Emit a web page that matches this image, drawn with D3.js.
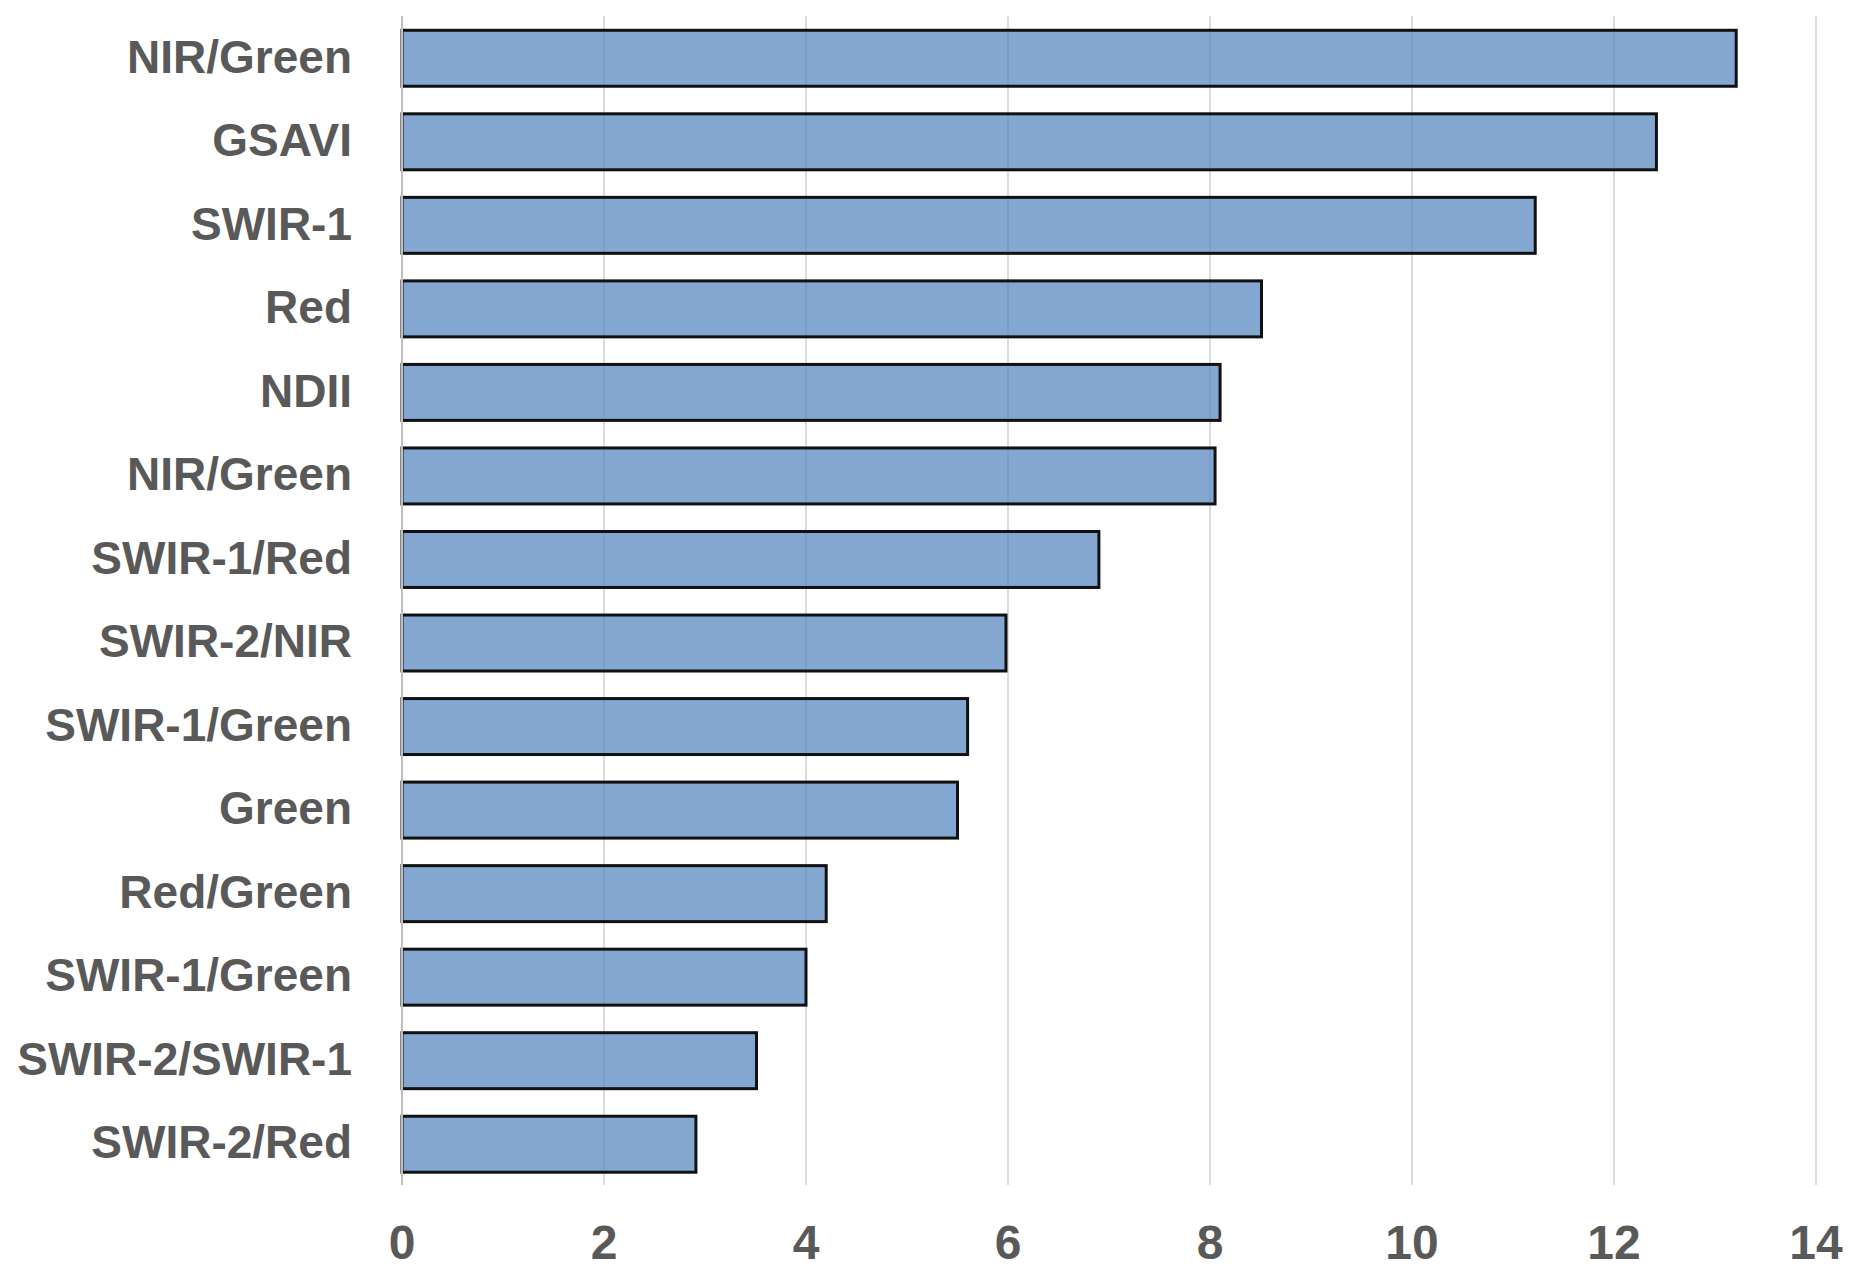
<!DOCTYPE html>
<html>
<head>
<meta charset="utf-8">
<script src="https://cdn.jsdelivr.net/npm/d3@7"></script>
<style>
  html, body { margin: 0; padding: 0; background: #fff; }
  svg { display: block; }
  text { font-family: "Liberation Sans", Arial, sans-serif; font-weight: bold; fill: #595959; }
</style>
</head>
<body>
<svg id="chart" width="1865" height="1278"></svg>
<script>
  // Feature importance (top to bottom, as drawn)
  var categories = ["NIR/Green", "GSAVI", "SWIR-1", "Red", "NDII", "NIR/Green", "SWIR-1/Red",
    "SWIR-2/NIR", "SWIR-1/Green", "Green", "Red/Green", "SWIR-1/Green", "SWIR-2/SWIR-1", "SWIR-2/Red"];
  var values = [13.21, 12.42, 11.22, 8.51, 8.1, 8.05, 6.9, 5.98, 5.6, 5.5, 4.2, 4.0, 3.51, 2.91];
  var xTicks = [0, 2, 4, 6, 8, 10, 12, 14];

  var svg = d3.select("#chart");
  var x = d3.scaleLinear().domain([0, 14]).range([402, 1816]);
  var y = d3.scaleBand().domain(d3.range(categories.length))
    .range([16.5, 1186]).paddingInner(0.33).paddingOuter(0.165);

  // gridlines (under translucent bars)
  svg.append("g").selectAll("line").data(xTicks.slice(1)).enter().append("line")
    .attr("x1", function (d) { return x(d); }).attr("x2", function (d) { return x(d); })
    .attr("y1", 16).attr("y2", 1185)
    .attr("stroke", "#dcdcdc").attr("stroke-width", 2);

  svg.append("g").selectAll("rect").data(values).enter().append("rect")
    .attr("x", x(0))
    .attr("y", function (d, i) { return y(i); })
    .attr("width", function (d) { return x(d) - x(0); })
    .attr("height", y.bandwidth())
    .attr("fill", "#4f81bd").attr("fill-opacity", 0.7)
    .attr("stroke", "#111").attr("stroke-width", 3);

  // zero axis
  svg.append("line").attr("x1", x(0)).attr("x2", x(0)).attr("y1", 16).attr("y2", 1185)
    .attr("stroke", "#bfbfbf").attr("stroke-width", 2);

  // category labels
  svg.append("g").selectAll("text").data(categories).enter().append("text")
    .attr("x", 352)
    .attr("y", function (d, i) { return y(i) + y.bandwidth() / 2; })
    .attr("dy", "0.31em")
    .attr("text-anchor", "end")
    .style("font-size", "46px")
    .text(function (d) { return d; });

  // x tick labels
  svg.append("g").selectAll("text").data(xTicks).enter().append("text")
    .attr("x", function (d) { return x(d); })
    .attr("y", 1259)
    .attr("text-anchor", "middle")
    .style("font-size", "48px")
    .text(function (d) { return d; });
</script>
</body>
</html>
